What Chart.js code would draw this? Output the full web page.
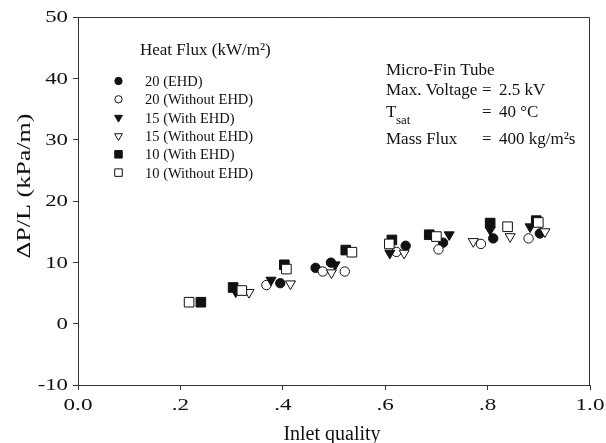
<!DOCTYPE html>
<html><head><meta charset="utf-8">
<script src="https://cdn.jsdelivr.net/npm/chart.js@4.4.1/dist/chart.umd.min.js"></script>
<style>html,body{margin:0;padding:0;background:#fff;}canvas{display:block;}</style>
</head><body>
<canvas id="c" width="606" height="443"></canvas>
<script>
// ---- data ----
const xTickValues = [0, 0.2, 0.4, 0.6, 0.8, 1.0];
const xTickLabels = ['0.0', '.2', '.4', '.6', '.8', '1.0'];
const yTickValues = [-10, 0, 10, 20, 30, 40, 50];
const yTickLabels = ['-10', '0', '10', '20', '30', '40', '50'];

const seriesNames = ['20 (EHD)', '20 (Without EHD)', '15 (With EHD)', '15 (Without EHD)', '10 (With EHD)', '10 (Without EHD)'];

const q20ehdX = [0.395, 0.464, 0.494, 0.640, 0.713, 0.811, 0.902];
const q20ehdY = [6.6, 9.1, 9.95, 12.7, 13.2, 13.9, 14.7];
const q20noX  = [0.368, 0.478, 0.521, 0.622, 0.704, 0.787, 0.880];
const q20noY  = [6.3, 8.5, 8.5, 11.7, 12.1, 13.0, 13.9];
const q15ehdX = [0.308, 0.377, 0.502, 0.609, 0.725, 0.805, 0.883];
const q15ehdY = [5.2, 7.1, 9.6, 11.5, 14.5, 15.3, 15.8];
const q15noX  = [0.334, 0.415, 0.495, 0.637, 0.772, 0.844, 0.912];
const q15noY  = [5.1, 6.5, 8.3, 11.5, 13.4, 14.2, 15.0];
const q10ehdX = [0.240, 0.303, 0.403, 0.523, 0.613, 0.686, 0.805, 0.895];
const q10ehdY = [3.5, 5.9, 9.6, 12.0, 13.65, 14.5, 16.4, 16.8];
const q10noX  = [0.217, 0.320, 0.407, 0.535, 0.608, 0.700, 0.839, 0.899];
const q10noY  = [3.5, 5.4, 8.9, 11.65, 13.0, 14.2, 15.8, 16.5];

const seriesX = [q20ehdX, q20noX, q15ehdX, q15noX, q10ehdX, q10noX];
const seriesY = [q20ehdY, q20noY, q15ehdY, q15noY, q10ehdY, q10noY];

// ---- styles ----
const INK = '#111';
const styles = [
  {shape: 'circle', fill: INK, r: 4.7, rot: 0},
  {shape: 'circle', fill: '#fff', r: 4.7, rot: 0},
  {shape: 'triangle', fill: INK, r: 5.8, rot: 180},
  {shape: 'triangle', fill: '#fff', r: 5.8, rot: 180},
  {shape: 'rect', fill: INK, r: 6.8, rot: 0},
  {shape: 'rect', fill: '#fff', r: 6.8, rot: 0}
];

const datasets = seriesNames.map((name, i) => ({
  label: name,
  data: seriesX[i].map((x, j) => ({x: x, y: seriesY[i][j]})),
  showLine: false,
  pointStyle: styles[i].shape,
  pointRotation: styles[i].rot,
  pointRadius: styles[i].r,
  pointHoverRadius: styles[i].r,
  pointBackgroundColor: styles[i].fill,
  pointBorderColor: INK,
  pointBorderWidth: 1,
  order: 6 - i
}));

const SERIF = '"Liberation Serif", "DejaVu Serif", serif';

function drawMarker(ctx, st, x, y, r) {
  ctx.save();
  ctx.fillStyle = st.fill;
  ctx.strokeStyle = INK;
  ctx.lineWidth = 1;
  ctx.beginPath();
  if (st.shape === 'circle') {
    ctx.arc(x, y, r, 0, Math.PI * 2);
  } else if (st.shape === 'rect') {
    const s = Math.SQRT1_2 * r;
    ctx.rect(x - s, y - s, 2 * s, 2 * s);
  } else {
    ctx.moveTo(x - r * 0.866, y - r * 0.5);
    ctx.lineTo(x + r * 0.866, y - r * 0.5);
    ctx.lineTo(x, y + r);
    ctx.closePath();
  }
  ctx.fill();
  ctx.stroke();
  ctx.restore();
}

function stretchedText(ctx, text, x, y, sx) {
  ctx.save();
  ctx.translate(x, y);
  ctx.scale(sx, 1);
  ctx.fillText(text, 0, 0);
  ctx.restore();
}

const annotations = {
  id: 'annotations',
  afterDraw(chart) {
    const ctx = chart.ctx;
    const a = chart.chartArea;
    const xs = chart.scales.x, ys = chart.scales.y;
    ctx.save();
    // top & right frame
    ctx.strokeStyle = '#333';
    ctx.lineWidth = 1;
    ctx.beginPath();
    ctx.moveTo(a.left, a.top + 0.5);
    ctx.lineTo(a.right - 0.5, a.top + 0.5);
    ctx.lineTo(a.right - 0.5, a.bottom);
    ctx.stroke();

    ctx.fillStyle = INK;
    // tick labels (wide serif, as in the reference)
    ctx.font = '16.5px ' + SERIF;
    ctx.textAlign = 'center';
    ctx.textBaseline = 'alphabetic';
    xTickValues.forEach((v, i) => stretchedText(ctx, xTickLabels[i], xs.getPixelForValue(v), 410, 1.4));
    ctx.textAlign = 'right';
    ctx.textBaseline = 'middle';
    yTickValues.forEach((v, i) => stretchedText(ctx, yTickLabels[i], 68, ys.getPixelForValue(v) + 1, 1.38));

    ctx.textBaseline = 'alphabetic';
    ctx.textAlign = 'left';
    // legend title
    ctx.font = '17px ' + SERIF;
    ctx.fillText('Heat Flux (kW/m²)', 140, 55);
    // legend rows
    ctx.font = '14.5px ' + SERIF;
    const rowY = [81, 99.3, 117.6, 136, 154.3, 172.6];
    seriesNames.forEach((name, i) => {
      const st = styles[i];
      drawMarker(ctx, st, 118.5, rowY[i], st.r * 0.78);
      ctx.fillStyle = INK;
      ctx.fillText(name, 145, rowY[i] + 5);
    });

    // conditions box
    ctx.font = '17px ' + SERIF;
    ctx.fillText('Micro-Fin Tube', 386, 75);
    ctx.fillText('Max. Voltage', 386, 94.5);
    ctx.fillText('=', 482, 94.5);
    ctx.fillText('2.5 kV', 499, 94.5);
    ctx.fillText('T', 386, 116.5);
    ctx.font = '13px ' + SERIF;
    ctx.fillText('sat', 396, 123.5);
    ctx.font = '17px ' + SERIF;
    ctx.fillText('=', 482, 116.5);
    ctx.fillText('40 °C', 499, 116.5);
    ctx.fillText('Mass Flux', 386, 143.5);
    ctx.fillText('=', 482, 143.5);
    ctx.fillText('400 kg/m²s', 499, 143.5);

    // axis titles
    ctx.font = '20px ' + SERIF;
    ctx.textAlign = 'center';
    ctx.fillText('Inlet quality', 332, 440);
    ctx.save();
    ctx.translate(25, 186);
    ctx.rotate(-Math.PI / 2);
    ctx.scale(1.45, 1);
    ctx.font = '18px ' + SERIF;
    ctx.textBaseline = 'middle';
    ctx.fillText('ΔP/L (kPa/m)', 0, 0);
    ctx.restore();
    ctx.restore();
  }
};

new Chart(document.getElementById('c'), {
  type: 'scatter',
  data: {datasets: datasets},
  options: {
    responsive: false,
    animation: false,
    events: [],
    layout: {padding: {top: 17, right: 16, left: 0, bottom: 0}},
    plugins: {legend: {display: false}, tooltip: {enabled: false}, title: {display: false}},
    scales: {
      x: {
        type: 'linear', min: 0, max: 1,
        afterBuildTicks(axis) { axis.ticks = xTickValues.map(v => ({value: v})); },
        afterFit(axis) { axis.height = 58; },
        ticks: {display: false},
        grid: {display: true, drawOnChartArea: false, drawTicks: true, tickLength: 5, color: '#333'},
        border: {display: true, color: '#333', width: 1}
      },
      y: {
        type: 'linear', min: -10, max: 50,
        afterBuildTicks(axis) { axis.ticks = yTickValues.map(v => ({value: v})); },
        afterFit(axis) { axis.width = 78; },
        ticks: {display: false},
        grid: {display: true, drawOnChartArea: false, drawTicks: true, tickLength: 5, color: '#333'},
        border: {display: true, color: '#333', width: 1}
      }
    }
  },
  plugins: [annotations]
});
</script>
</body></html>
